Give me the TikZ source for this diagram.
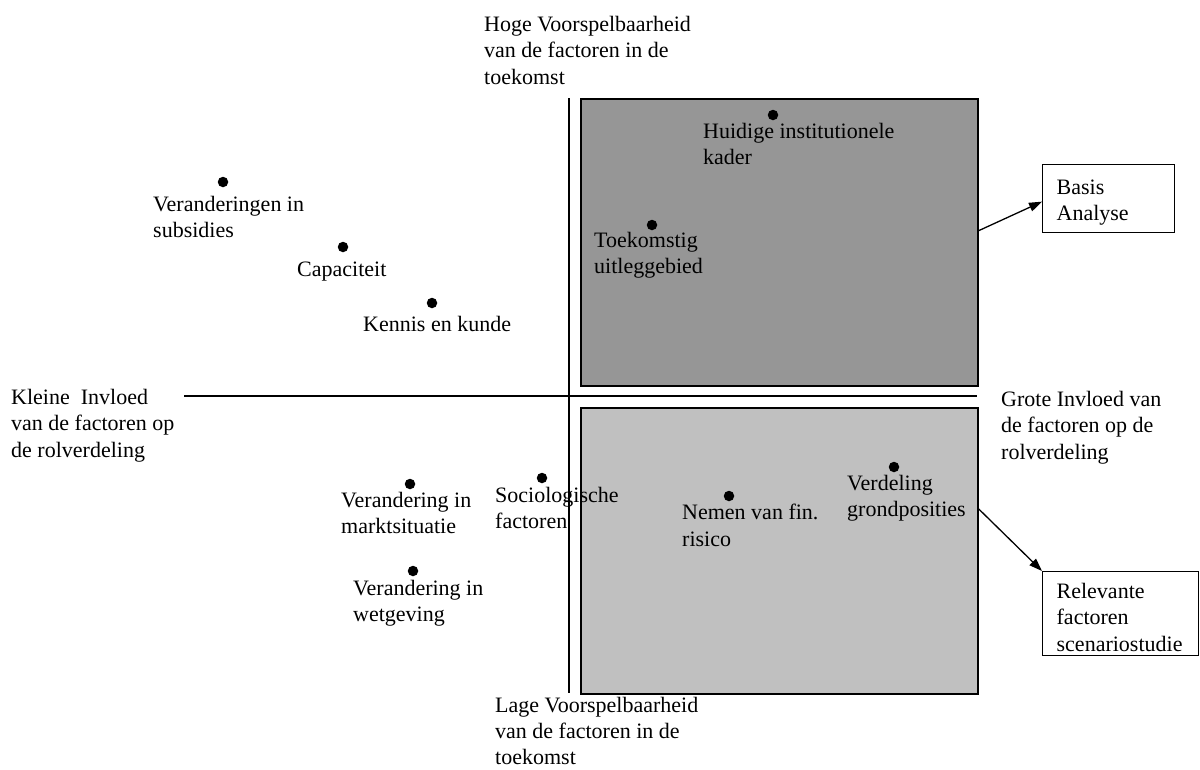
\documentclass[tikz,border=0pt]{standalone}
\usepackage{fontspec}
\setmainfont{Liberation Serif}
\usetikzlibrary{arrows.meta}
\definecolor{darkq}{RGB}{150,150,150}
\definecolor{lightq}{RGB}{192,192,192}
\tikzset{
  lbl/.style={anchor=north west, inner sep=0pt, align=left, font=\fontsize{22}{26.5}\selectfont},
  quad/.style={draw=black, line width=1.5pt, anchor=north west, inner sep=0pt},
  outbox/.style={draw=black, line width=1.3pt, anchor=north west, align=left,
    inner xsep=14pt, inner ysep=0pt, font=\fontsize{22}{26.5}\selectfont},
  dot/.style={circle, fill=black, inner sep=0pt, minimum size=10.5pt},
  axis/.style={line width=1.5pt},
  flow/.style={line width=1.3pt, -{Triangle[length=13pt,width=9pt]}}
}
\begin{document}
\begin{tikzpicture}[x=1pt, y=-1pt]
\useasboundingbox (0,0) rectangle (1200,769);

% quadrants of high influence
\node[quad, fill=darkq, minimum width=397pt, minimum height=287pt] (high) at (580,98) {};
\node[quad, fill=lightq, minimum width=397pt, minimum height=286pt] (low) at (580,407) {};

% axes
\coordinate (vtop) at (569,98);
\coordinate (vbot) at (569,693);
\coordinate (hleft) at (184,396);
\coordinate (hright) at (977,396);
\draw[axis] (vtop) -- (vbot);
\draw[axis] (hleft) -- (hright);

% axis labels
\node[lbl] (hoge) at (484,16) {Hoge Voorspelbaarheid\\van de factoren in de\\toekomst};
\node[lbl, font=\fontsize{22}{26}\selectfont] (lage) at (495,697) {Lage Voorspelbaarheid\\van de factoren in de\\toekomst};
\node[lbl] (kleine) at (11,389) {Kleine\ \ Invloed\\van de factoren op\\de rolverdeling};
\node[lbl] (grote) at (1001,391) {Grote Invloed van\\de factoren op de\\rolverdeling};

% factors
\node[dot] (d1) at (223,182) {};
\node[lbl] (t1) at (153,196) {Veranderingen in\\subsidies};
\node[dot] (d2) at (343,247) {};
\node[lbl] (t2) at (297,262) {Capaciteit};
\node[dot] (d3) at (432,303) {};
\node[lbl] (t3) at (363,316) {Kennis en kunde};
\node[dot] (d4) at (773,115) {};
\node[lbl] (t4) at (703,123) {Huidige institutionele\\kader};
\node[dot] (d5) at (652,225) {};
\node[lbl] (t5) at (594,232) {Toekomstig\\uitleggebied};
\node[dot] (d6) at (410,484) {};
\node[lbl] (t6) at (341,492) {Verandering in\\marktsituatie};
\node[dot] (d7) at (413,571) {};
\node[lbl] (t7) at (353,580) {Verandering in\\wetgeving};
\node[dot] (d8) at (542,478) {};
\node[lbl] (t8) at (495,487) {Sociologische\\factoren};
\node[dot] (d9) at (729,496) {};
\node[lbl] (t9) at (682,504) {Nemen van fin.\\risico};
\node[dot] (d10) at (894,467) {};
\node[lbl] (t10) at (847,475) {Verdeling\\grondposities};

% outcome boxes
\node[outbox, text width=104pt, minimum height=68pt] (basis) at (1042,164) {\rule{0pt}{22pt}Basis\\Analyse};
\node[outbox, text width=128pt, minimum height=84pt] (rel) at (1042,571) {\rule{0pt}{22pt}Relevante\\factoren\\scenariostudie};

% arrows
\draw[flow] ([yshift=11.5pt]high.east) -- ([yshift=-3pt]basis.west);
\draw[flow] ([yshift=42pt]low.east) -- (rel.north west);
\end{tikzpicture}
\end{document}
